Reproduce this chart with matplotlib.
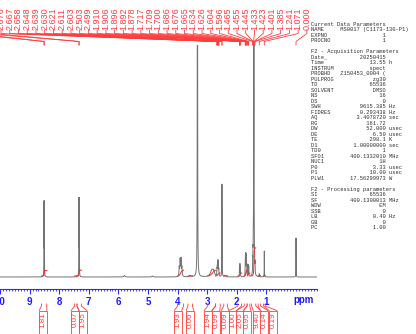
import numpy as np
import matplotlib
matplotlib.use("Agg")
import matplotlib.pyplot as plt
from matplotlib.patches import Rectangle

# ---------------- data ----------------
peak_ppm = [8.515, 8.503, 7.335, 7.323, 5.80, 4.85,
            3.945, 3.915, 3.885, 3.855, 3.58, 3.330, 2.85, 2.79,
            2.676, 2.667, 2.658, 2.648, 2.639, 2.630, 2.621, 2.611, 2.603,
            2.503, 2.499, 2.40,
            1.910, 1.906, 1.896, 1.892, 1.878,
            1.717, 1.709, 1.700, 1.686, 1.676, 1.665,
            1.634, 1.626, 1.604, 1.596,
            1.465, 1.455, 1.445, 1.433, 1.423, 1.401, 1.385,
            1.241, 1.071, 0.000]
peak_height = [72, 72, 75, 75, 1.5, 1.0,
               9, 16, 17, 9, 1.5, 800, 6, 5,
               3, 6, 8, 11, 12, 11, 8, 6, 3,
               66, 66, 1.5,
               6, 6, 8, 7, 6,
               10, 16, 19, 19, 15, 10,
               8, 10, 10, 8,
               12, 18, 25, 40, 900, 15, 10,
               3, 26, 39]
peak_hwhm = [0.003, 0.003, 0.003, 0.003, 0.02, 0.02,
             0.01, 0.01, 0.01, 0.01, 0.02, 0.004, 0.05, 0.04,
             0.004, 0.004, 0.004, 0.004, 0.004, 0.004, 0.004, 0.004, 0.004,
             0.003, 0.003, 0.02,
             0.004, 0.004, 0.004, 0.004, 0.004,
             0.004, 0.004, 0.004, 0.004, 0.004, 0.004,
             0.004, 0.004, 0.004, 0.004,
             0.004, 0.004, 0.004, 0.004, 0.003, 0.004, 0.004,
             0.005, 0.003, 0.003]

# peaks whose labels lie beyond the left edge (only their leader lines show)
offscreen_label_ppm = [8.515, 8.503, 7.335, 7.323]

shift_labels = ["2.676", "2.667", "2.658", "2.648", "2.639", "2.630", "2.621",
                "2.611", "2.603", "2.503", "2.499", "1.910", "1.906", "1.896",
                "1.892", "1.878", "1.717", "1.709", "1.700", "1.686", "1.676",
                "1.665", "1.634", "1.626", "1.604", "1.596", "1.465", "1.455",
                "1.445", "1.433", "1.423", "1.401", "1.385", "1.241", "1.071",
                "0.000"]

integral_values = [1.81, 0.07, 1.95, 1.93, 0.06, 1.94, 0.99, 0.09,
                   1.00, 2.05, 0.95, 9.40, 0.14, 0.19]
integral_from = [8.60, 7.48, 7.40, 4.00, 3.65, 2.98, 2.72, 2.44,
                 1.96, 1.75, 1.65, 1.50, 1.28, 1.10]
integral_to = [8.42, 7.40, 7.25, 3.80, 3.50, 2.72, 2.56, 2.32,
               1.84, 1.655, 1.56, 1.36, 1.20, 1.04]

xtick_values = [1, 2, 3, 4, 5, 6, 7, 8, 9, 10]

param_sections = [
    ("Current Data Parameters",
     [("NAME", "MS0017 (C1173-130-P1)", ""), ("EXPNO", "1", ""), ("PROCNO", "1", "")]),
    ("F2 - Acquisition Parameters",
     [("Date_", "20250415", ""), ("Time", "13.55", "h"), ("INSTRUM", "spect", ""),
      ("PROBHD", "Z150453_0004 (", ""),
      ("PULPROG", "zg30", ""), ("TD", "65536", ""), ("SOLVENT", "DMSO", ""),
      ("NS", "16", ""), ("DS", "0", ""), ("SWH", "9615.385", "Hz"),
      ("FIDRES", "0.293438", "Hz"), ("AQ", "3.4078720", "sec"), ("RG", "161.72", ""),
      ("DW", "52.000", "usec"), ("DE", "6.50", "usec"), ("TE", "298.1", "K"),
      ("D1", "1.00000000", "sec"), ("TD0", "1", ""), ("SFO1", "400.1332010", "MHz"),
      ("NUC1", "1H", ""), ("P0", "3.33", "usec"), ("P1", "10.00", "usec"),
      ("PLW1", "17.56299973", "W")]),
    ("F2 - Processing parameters",
     [("SI", "65536", ""), ("SF", "400.1300013", "MHz"), ("WDW", "EM", ""),
      ("SSB", "0", ""), ("LB", "0.40", "Hz"), ("GB", "0", ""), ("PC", "1.00", "")]),
]

# ---------------- figure ----------------
W, H = 416, 334
fig = plt.figure(figsize=(W / 100, H / 100), dpi=100)
fig.patch.set_facecolor("white")

ax = fig.add_axes([0 / W, (H - 289) / H, 317 / W, (289 - 45) / H])
ax.set_xlim(10.0, -0.709)
ax.set_ylim(-12, 232)
ax.set_facecolor("none")
for s in ["top", "left", "right"]:
    ax.spines[s].set_visible(False)
ax.spines["bottom"].set_color("#2a2aff")
ax.spines["bottom"].set_linewidth(0.8)
ax.set_yticks([])
ax.set_xticks(xtick_values)
ax.set_xticklabels([str(v) for v in xtick_values], color="#1a1aff",
                   fontsize=7, fontweight="bold", family="Liberation Sans")
ax.set_xticks(np.arange(-0.7, 10.01, 0.1), minor=True)
ax.tick_params(axis="x", which="major", length=3.5, width=0.8, color="#2a2aff", pad=2)
ax.tick_params(axis="x", which="minor", length=1.5, width=0.6, color="#2a2aff")

# spectrum from peak list (Lorentzian lines)
grid = np.linspace(10.0, -0.709, 40000)
spec = np.zeros_like(grid)
for p, h, w in zip(peak_ppm, peak_height, peak_hwhm):
    spec += h / (1.0 + ((grid - p) / w) ** 2)
ax.plot(grid, spec, color="#747474", lw=0.7, zorder=2)

# integral curves
for v, a, b in zip(integral_values, integral_from, integral_to):
    m = (grid <= a) & (grid >= b)
    seg = spec[m]
    cum = np.cumsum(seg)
    cum = cum / cum[-1] * v * 3.0
    ax.plot(grid[m], cum + 1.0, color="#ff2020", lw=0.7, zorder=3)

# overlay in pixel coordinates
ov = fig.add_axes([0, 0, 1, 1])
ov.set_xlim(0, W)
ov.set_ylim(H, 0)
ov.axis("off")
ov.set_facecolor("none")


def ppm_px(p):
    return ax.transData.transform((p, 0))[0]


ov.text(303.5, 300, "ppm", color="#1a1aff", fontsize=7, fontweight="bold",
        family="Liberation Sans", ha="center", va="center")

LABEL_RED = "#ff3c3c"
# leader lines of labels lying beyond the left edge
n_off = len(offscreen_label_ppm)
for i, p in enumerate(offscreen_label_ppm):
    lx = 1 + 8.74 * (i - n_off)
    px = ppm_px(p)
    ov.plot([lx, lx, px, px], [30, 33.5, 41.5, 45], color=LABEL_RED, lw=0.6)

# peak labels with leader lines
for i, lab in enumerate(shift_labels):
    lx = 1 + 8.74 * i
    px = ppm_px(float(lab))
    ov.text(lx, 29.5, lab, rotation=90, ha="center", va="bottom", color=LABEL_RED,
            fontsize=6.5, family="Liberation Sans")
    ov.plot([lx, lx, px, px], [30, 33.5, 41.5, 45], color=LABEL_RED, lw=0.6)

# integral labels below the axis
int_label_x = [43, 75, 83, 178, 190, 208, 216, 225, 233, 240, 247, 257, 264, 273]
for v, a, b, bx in zip(integral_values, integral_from, integral_to, int_label_x):
    xa, xb = ppm_px(a), ppm_px(b)
    ov.plot([xa, xa, bx - 3.8], [304, 306, 310.5], color=LABEL_RED, lw=0.6)
    ov.plot([xb, xb, bx + 3.8], [304, 306, 310.5], color=LABEL_RED, lw=0.6)
    ov.add_patch(Rectangle((bx - 3.8, 310.5), 7.6, 30, fill=True, fc="white",
                           ec=LABEL_RED, lw=0.6))
    ov.text(bx, 312, f"{v:.2f}", rotation=90, ha="center", va="top",
            color=LABEL_RED, fontsize=5.8, family="Liberation Sans")

# parameter block
lines = []
for si, (title, rows) in enumerate(param_sections):
    if si > 0:
        lines.append("")
    lines.append(title)
    for k, val, unit in rows:
        if len(val) > 14:
            s = f"{k:<9}{val}"
        else:
            s = f"{k:<9}{val:>14}"
        if unit:
            s += " " + unit
        lines.append(s)
for i, s in enumerate(lines):
    if s:
        ov.text(311, 24 + 5.51 * i, s, family="Liberation Mono", fontsize=3.85,
                color="#303030", ha="left", va="center")

fig.savefig("out.png", dpi=100)
